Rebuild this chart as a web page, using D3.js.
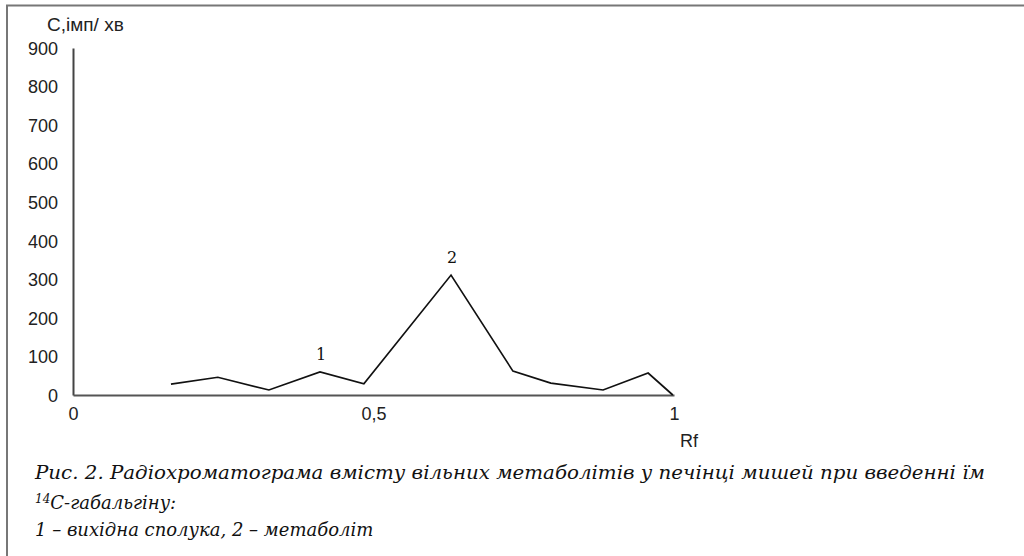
<!DOCTYPE html>
<html>
<head>
<meta charset="utf-8">
<script src="https://cdn.jsdelivr.net/npm/d3@7"></script>
<style>
  body { margin: 0; background: #fff; }
  svg { display: block; }
  .caption { font-family: "DejaVu Serif", serif; font-style: italic; font-size: 18px; fill: #111; }
</style>
</head>
<body>
<svg width="1024" height="556"></svg>
<script>
// Rf values and counts
var rf     = [0.163, 0.241, 0.326, 0.411, 0.484, 0.629, 0.732, 0.795, 0.882, 0.957, 0.998];
var counts = [28, 46, 13, 60, 29, 311, 62, 31, 13, 57, 0];
var yTicks = [0, 100, 200, 300, 400, 500, 600, 700, 800, 900];
var xTicks = [0, 0.5, 1];
var peaks  = [{ rf: 0.411, c: 60, label: "1" }, { rf: 0.629, c: 311, label: "2" }];

var svg = d3.select("svg"),
    margin = {top: 48, left: 73},
    width = 601,
    height = 347,
    sans = "Liberation Sans, Arial, sans-serif";

// frame (only top and left visible)
svg.append("path")
    .attr("d", "M7,1024 V5.5 H1024")
    .attr("fill", "none")
    .attr("stroke", "#777")
    .attr("stroke-width", 2);

var x = d3.scaleLinear().domain([0, 1]).range([0, width]),
    y = d3.scaleLinear().domain([0, 900]).range([height, 0]);

var g = svg.append("g")
    .attr("transform", "translate(" + margin.left + "," + margin.top + ")");

var yAxis = g.append("g")
    .call(d3.axisLeft(y).tickValues(yTicks).tickSize(0).tickPadding(15));
yAxis.attr("font-family", sans).attr("font-size", 18);
yAxis.select(".domain").attr("stroke", "#444").attr("stroke-width", 2);
yAxis.selectAll(".tick text").attr("dy", "0.35em").attr("fill", "#222");

var xAxis = g.append("g")
    .attr("transform", "translate(0," + height + ")")
    .call(d3.axisBottom(x).tickValues(xTicks).tickSize(0).tickPadding(12)
        .tickFormat(function(d) { return String(d).replace(".", ","); }));
xAxis.attr("font-family", sans).attr("font-size", 18);
xAxis.select(".domain").attr("stroke", "#555").attr("stroke-width", 2);
xAxis.selectAll(".tick text").attr("fill", "#222");

g.append("text")
    .attr("x", -26)
    .attr("y", -17)
    .attr("font-family", sans)
    .attr("font-size", 19)
    .attr("fill", "#222")
    .text("C,імп/ хв");

g.append("text")
    .attr("x", x(1) + 6)
    .attr("y", height + 52)
    .attr("font-family", sans)
    .attr("font-size", 18)
    .attr("fill", "#222")
    .text("Rf");

var line = d3.line()
    .x(function(d, i) { return x(rf[i]); })
    .y(function(d) { return y(d); });

g.append("path")
    .datum(counts)
    .attr("fill", "none")
    .attr("stroke", "#111")
    .attr("stroke-width", 1.7)
    .attr("stroke-linejoin", "miter")
    .attr("d", line);

g.selectAll(".peak")
    .data(peaks)
    .enter().append("text")
    .attr("class", "peak")
    .attr("x", function(d) { return x(d.rf) + 1; })
    .attr("y", function(d) { return y(d.c) - 12; })
    .attr("text-anchor", "middle")
    .attr("font-family", "DejaVu Serif, serif")
    .attr("font-size", 16)
    .attr("fill", "#111")
    .text(function(d) { return d.label; });

// caption
var cap = svg.append("g");
cap.append("text").attr("class", "caption")
    .attr("x", 35).attr("y", 479)
    .attr("textLength", 950).attr("lengthAdjust", "spacingAndGlyphs")
    .text("Рис. 2. Радіохроматограма вмісту вільних метаболітів у печінці мишей при введенні їм");
var l2 = cap.append("text").attr("class", "caption")
    .attr("x", 35).attr("y", 509);
l2.append("tspan").attr("font-size", 12).attr("dy", -6).text("14");
l2.append("tspan").attr("dy", 6).text("С-габальгіну:");
cap.append("text").attr("class", "caption")
    .attr("x", 35).attr("y", 536)
    .text("1 – вихідна сполука, 2 – метаболіт");
</script>
</body>
</html>
